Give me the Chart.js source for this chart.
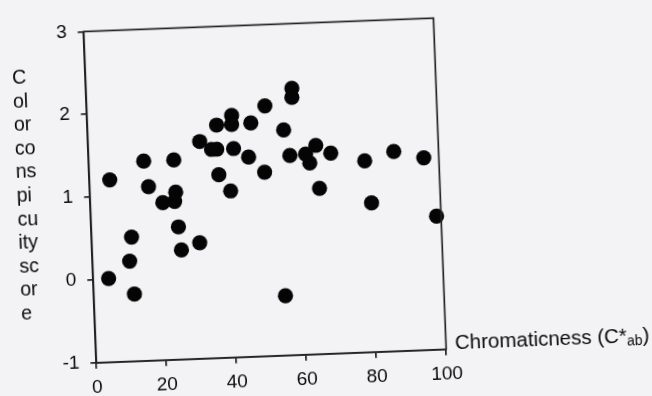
<!DOCTYPE html>
<html>
<head>
<meta charset="utf-8">
<script src="https://cdn.jsdelivr.net/npm/chart.js@4/dist/chart.umd.min.js"></script>
<style>
  html, body { margin:0; padding:0; background:#f3f3f5; overflow:hidden; }
  #wrap { position:absolute; left:0; top:0; width:652px; height:396px;
          transform-origin:326px 198px; transform:rotate(-2.2deg); }
</style>
</head>
<body>
<div id="wrap"><canvas id="c" width="652" height="396"></canvas></div>
<script>
// ---- data ----
const chroma = [5.8, 4.4, 11.4, 10.6, 11.6, 15.7, 16.8, 20.7, 24.1, 24.5, 24.3, 24.9, 25.5, 30.8, 31.9, 35.2, 36.7, 41.5, 36.9, 41.3, 41.2, 45.7, 46.7, 50.9, 37.0, 50.1, 40.2, 56.0, 58.8, 58.7, 57.5, 62.0, 65.0, 63.1, 69.2, 65.6, 54.7, 78.8, 87.2, 95.7, 80.3, 98.7];
const score  = [1.20, 0.01, 0.50, 0.21, -0.19, 1.41, 1.10, 0.90, 0.91, 1.02, 1.41, 0.60, 0.32, 0.40, 1.62, 1.52, 1.52, 1.52, 1.81, 1.92, 1.81, 1.41, 1.82, 2.02, 1.21, 1.22, 1.01, 1.72, 2.22, 2.11, 1.41, 1.42, 1.52, 1.31, 1.42, 1.00, -0.28, 1.31, 1.41, 1.32, 0.80, 0.61];
const xTicks = [0, 20, 40, 60, 80, 100];
const yTicks = [-1, 0, 1, 2, 3];
const yTitleLines = ["C", "ol", "or", "co", "ns", "pi", "cu", "ity", "sc", "or", "e"];
const xTitleMain = "Chromaticness (C*";
const xTitleSub = "ab";
const xTitleEnd = ")";

// ---- styles ----
const FONT = '"Liberation Sans", Arial, sans-serif';
const ink = '#0a0a0a';
const axisColor = '#222222';

const extras = {
  id: 'extras',
  afterDraw(chart) {
    const { ctx, chartArea: a } = chart;
    ctx.save();
    ctx.strokeStyle = axisColor;
    ctx.lineWidth = 1.7;
    ctx.strokeRect(a.left, a.top, a.right - a.left, a.bottom - a.top);
    ctx.fillStyle = ink;
    ctx.textAlign = 'left';
    ctx.textBaseline = 'alphabetic';
    ctx.font = '19.5px ' + FONT;
    yTitleLines.forEach((t, i) => ctx.fillText(t, 17, 72 + i * 23.6));
    // x title to the right of the plot
    let x = a.right + 9;
    const base = a.bottom;
    ctx.font = '20.5px ' + FONT;
    ctx.fillText(xTitleMain, x, base);
    x += ctx.measureText(xTitleMain).width;
    ctx.font = '14px ' + FONT;
    ctx.fillText(xTitleSub, x, base + 3);
    x += ctx.measureText(xTitleSub).width;
    ctx.font = '20.5px ' + FONT;
    ctx.fillText(xTitleEnd, x, base);
    ctx.restore();
  }
};

new Chart(document.getElementById('c'), {
  type: 'scatter',
  data: {
    datasets: [{
      data: chroma.map((v, i) => ({ x: v, y: score[i] })),
      backgroundColor: '#050505',
      borderColor: '#050505',
      borderWidth: 0,
      pointRadius: 7.6,
      pointHoverRadius: 7.6,
      clip: false
    }]
  },
  options: {
    responsive: false,
    animation: false,
    events: [],
    layout: { padding: { top: 11.8, right: 211.7, bottom: 0, left: 0 } },
    plugins: { legend: { display: false }, tooltip: { enabled: false } },
    scales: {
      x: {
        type: 'linear', min: 0, max: 100,
        afterBuildTicks: s => { s.ticks = xTicks.map(v => ({ value: v })); },
        afterFit: s => { s.height = 42.2; },
        ticks: { color: ink, font: { size: 19, family: FONT }, padding: 8, maxRotation: 0 },
        grid: { drawOnChartArea: false, tickLength: 6, color: axisColor, lineWidth: 1.7 },
        border: { color: axisColor, width: 1.7 }
      },
      y: {
        type: 'linear', min: -1, max: 3,
        afterBuildTicks: s => { s.ticks = yTicks.map(v => ({ value: v })); },
        afterFit: s => { s.width = 90.3; },
        ticks: { color: ink, font: { size: 19, family: FONT }, padding: 11 },
        grid: { drawOnChartArea: false, tickLength: 6, color: axisColor, lineWidth: 1.7 },
        border: { color: axisColor, width: 1.7 }
      }
    }
  },
  plugins: [extras]
});
</script>
</body>
</html>
